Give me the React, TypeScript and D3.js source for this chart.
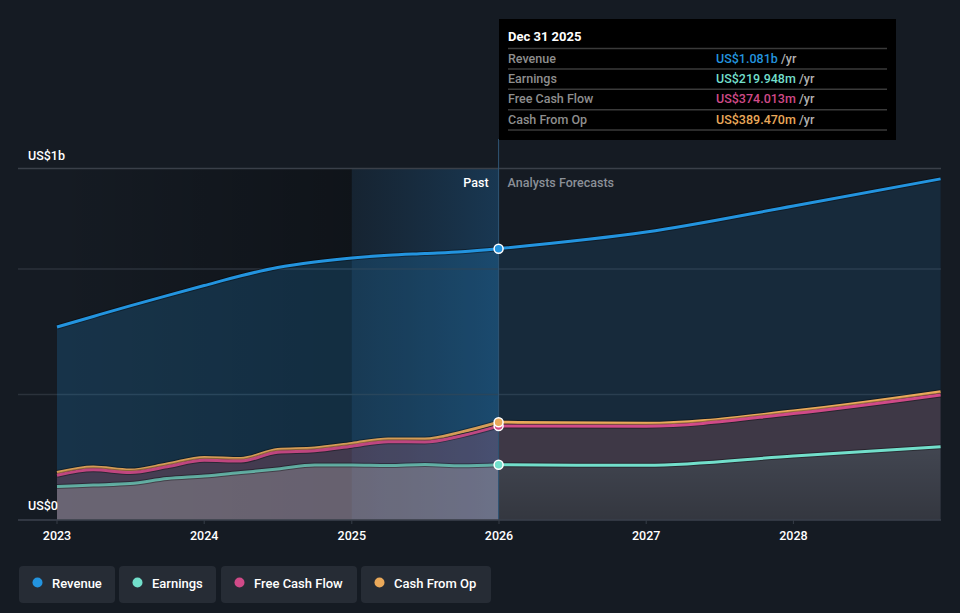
import * as d3 from "d3"

// quarterly history, then analyst forecasts (US$ m)
const pastDates = [
  "2023-01-01", "2023-04-01", "2023-07-01", "2023-10-01",
  "2024-01-01", "2024-04-01", "2024-07-01", "2024-10-01",
  "2025-01-01", "2025-04-01", "2025-07-01", "2025-10-01", "2025-12-31",
]
const pastRevenue = [769, 811, 853, 894, 934, 973, 1006, 1028, 1044, 1055, 1062, 1069, 1081]
const pastEarnings = [133, 139, 145, 165, 175, 189, 203, 219, 219, 217, 221, 216, 219.948]
const pastFcf = [178, 200, 189, 212, 238, 235, 270, 276, 294, 312, 311, 336, 374.013]
const pastCfo = [189, 211, 199, 223, 249, 245, 281, 287, 305, 323, 323, 351, 389.47]

const futureDates = ["2025-12-31", "2027-01-01", "2028-01-01", "2028-12-31"]
const futureRevenue = [1081, 1147, 1251, 1359]
const futureEarnings = [219.948, 218, 255, 292]
const futureFcf = [374.013, 374, 424, 498]
const futureCfo = [389.47, 385, 434, 511]

const yearTicks = ["2023", "2024", "2025", "2026", "2027", "2028"]
const gridValues = [0, 500, 1000, 1400]

const seriesNames = ["Revenue", "Earnings", "Free Cash Flow", "Cash From Op"]
const seriesColors = ["#2394df", "#72dfcb", "#d04a88", "#eaa95a"]
const tooltipValues = ["US$1.081b", "US$219.948m", "US$374.013m", "US$389.470m"]

const W = 960
const H = 613
const font = "Roboto, 'Noto Sans', sans-serif"

export default function App() {
  const parse = d3.timeParse("%Y-%m-%d")
  const x = d3
    .scaleTime()
    .domain([new Date(2023, 0, 1), new Date(2029, 0, 1)])
    .range([57, 941])
  const y = d3.scaleLinear().domain([0, 1400]).range([520, 168.6])

  const past = pastDates.map((d, i) => ({
    date: parse(d)!,
    values: [pastRevenue[i], pastEarnings[i], pastFcf[i], pastCfo[i]],
  }))
  const future = futureDates.map((d, i) => ({
    date: parse(d)!,
    values: [futureRevenue[i], futureEarnings[i], futureFcf[i], futureCfo[i]],
  }))

  const lineFor = (k: number) =>
    d3
      .line<any>()
      .x((d) => x(d.date))
      .y((d) => y(d.values[k]))
      .curve(d3.curveMonotoneX)
  const areaFor = (k: number) =>
    d3
      .area<any>()
      .x((d) => x(d.date))
      .y0(y(0))
      .y1((d) => y(d.values[k]))
      .curve(d3.curveMonotoneX)

  const splitX = x(parse("2025-12-31")!)
  const hlX = x(new Date(2025, 0, 1))
  const left = 18
  const right = 941

  // draw order: revenue, cfo, fcf, earnings
  const order = [0, 3, 2, 1]
  const pastOpacity = [0.2, 0.28, 0.17, 0.09]
  const futureOpacity = [0.13, 0.09, 0.11, 0.1]
  const pastFill = ["#2394df", "#c8c8c4", "#d04a88", "#eaa95a"]
  const pastStroke = [1, 0.7, 0.9, 0.9]

  const legendX = [19, 119, 221, 361]
  const legendW = [96, 97, 136, 130]

  return (
    <svg
      width={W}
      height={H}
      style={{ position: "absolute", left: 0, top: 0, background: "#151b23", fontFamily: font }}
    >
      <defs>
        <linearGradient id="pastShade" x1="0" x2="1" y1="0" y2="0">
          <stop offset="0" stopColor="#000" stopOpacity={0.0} />
          <stop offset="1" stopColor="#000" stopOpacity={0.28} />
        </linearGradient>
        <linearGradient id="hlShade" x1="0" x2="1" y1="0" y2="0">
          <stop offset="0" stopColor="#1d5a8c" stopOpacity={0.14} />
          <stop offset="1" stopColor="#1f6aa6" stopOpacity={0.36} />
        </linearGradient>
        <linearGradient id="bottomShade" x1="0" x2="0" y1="0" y2="1">
          <stop offset="0" stopColor="#000" stopOpacity={0} />
          <stop offset="1" stopColor="#000" stopOpacity={0.22} />
        </linearGradient>
        <clipPath id="clipPast">
          <rect x={0} y={0} width={splitX} height={H} />
        </clipPath>
        <clipPath id="clipFuture">
          <rect x={splitX} y={0} width={W - splitX} height={H} />
        </clipPath>
      </defs>

      {/* background bands */}
      <rect x={x(new Date(2023, 0, 1))} y={169} width={hlX - x(new Date(2023, 0, 1))} height={351} fill="url(#pastShade)" />
      <rect x={hlX} y={169} width={splitX - hlX} height={351} fill="url(#hlShade)" />

      {/* grid */}
      {gridValues.map((v, i) => (
        <line
          key={v}
          x1={left}
          x2={right}
          y1={y(v)}
          y2={y(v)}
          stroke={i === gridValues.length - 1 ? "#3a4049" : "#2b323b"}
          strokeWidth={1.5}
        />
      ))}

      {/* areas */}
      <g clipPath="url(#clipPast)">
        {order.map((k) => (
          <path key={k} d={areaFor(k)(past) || undefined} fill={pastFill[k]} fillOpacity={pastOpacity[k]} />
        ))}
      </g>
      <g clipPath="url(#clipFuture)">
        {order.map((k) => (
          <path key={k} d={areaFor(k)(future) || undefined} fill={seriesColors[k]} fillOpacity={futureOpacity[k]} />
        ))}
        <path d={areaFor(1)(future) || undefined} fill="url(#bottomShade)" />
      </g>

      {/* lines */}
      {order.map((k) => (
        <g key={k}>
          <path d={lineFor(k)(past) || undefined} fill="none" stroke="#000" strokeOpacity={0.35} strokeWidth={5} />
          <path
            d={lineFor(k)(past) || undefined}
            fill="none"
            stroke={seriesColors[k]}
            strokeOpacity={pastStroke[k]}
            strokeWidth={3}
          />
          <path d={lineFor(k)(future) || undefined} fill="none" stroke="#000" strokeOpacity={0.35} strokeWidth={5} />
          <path d={lineFor(k)(future) || undefined} fill="none" stroke={seriesColors[k]} strokeWidth={3} />
        </g>
      ))}

      {/* divider */}
      <line x1={splitX} x2={splitX} y1={139} y2={520} stroke="#2f5676" strokeWidth={1} />
      <text x={splitX - 10} y={187} textAnchor="end" fill="#fff" fontSize={12.5} fontWeight={500}>
        Past
      </text>
      <text x={splitX + 9} y={187} fill="#8b9098" fontSize={12.5} fontWeight={500}>
        Analysts Forecasts
      </text>

      {/* dots */}
      {[2, 3, 1, 0].map((k) => (
        <circle
          key={k}
          cx={splitX}
          cy={y(future[0].values[k])}
          r={4.5}
          fill={seriesColors[k]}
          stroke="#fff"
          strokeWidth={1.5}
        />
      ))}

      {/* axes */}
      <line x1={left} x2={right} y1={y(0)} y2={y(0)} stroke="#363d47" strokeWidth={1.5} />
      {yearTicks.map((t) => {
        const tx = x(new Date(+t, 0, 1))
        return (
          <g key={t}>
            <line x1={tx} x2={tx} y1={520} y2={524} stroke="#363d47" />
            <text x={tx} y={540} textAnchor="middle" fill="#fff" fontSize={12.5} fontWeight={500}>
              {t}
            </text>
          </g>
        )
      })}
      <text x={28} y={160} fill="#fff" fontSize={12.5} fontWeight={500}>
        US$1b
      </text>
      <text x={28} y={510} fill="#fff" fontSize={12.5} fontWeight={500}>
        US$0
      </text>

      {/* tooltip */}
      <rect x={499} y={19} width={397} height={121} fill="#000" />
      <text x={508} y={41} fill="#fff" fontSize={13} fontWeight={700}>
        Dec 31 2025
      </text>
      {seriesNames.map((n, i) => (
        <g key={n}>
          <line x1={508} x2={887} y1={48.5 + i * 20.4} y2={48.5 + i * 20.4} stroke="#3a3a3a" strokeWidth={1.5} />
          <text x={508} y={62.5 + i * 20.4} fill="#8e8e8e" fontSize={12.5} fontWeight={500}>
            {n}
          </text>
          <text x={716} y={62.5 + i * 20.4} fontSize={12.5} fontWeight={500}>
            <tspan fill={seriesColors[i]}>{tooltipValues[i]}</tspan>
            <tspan fill="#b0b0b0"> /yr</tspan>
          </text>
        </g>
      ))}
      <line x1={508} x2={887} y1={130} y2={130} stroke="#3a3a3a" strokeWidth={1.5} />

      {/* legend */}
      {seriesNames.map((n, i) => (
        <g key={n} transform={`translate(${legendX[i]},566)`}>
          <rect width={legendW[i]} height={37} rx={4} fill="#262c35" />
          <circle cx={18.5} cy={16.5} r={5} fill={seriesColors[i]} />
          <text x={33} y={21.5} fill="#fff" fontSize={13} fontWeight={500}>
            {n}
          </text>
        </g>
      ))}
    </svg>
  )
}
